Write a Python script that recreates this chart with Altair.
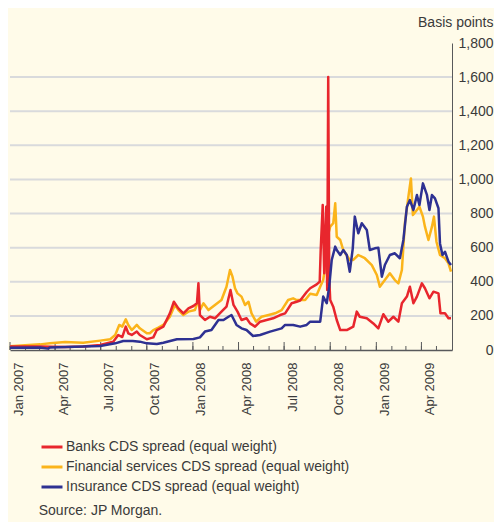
import altair as alt
import pandas as pd

# ---------------- data ----------------
series_names = [
    "Banks CDS spread (equal weight)",
    "Financial services CDS spread (equal weight)",
    "Insurance CDS spread (equal weight)",
]
series_colors = ["#e8262d", "#fbb41a", "#2e3192"]

banks_dates = [
    "2007-01-01", "2007-03-02", "2007-04-21", "2007-05-27", "2007-06-30", "2007-07-26",
    "2007-08-05", "2007-08-13", "2007-08-20", "2007-08-25", "2007-09-01", "2007-09-11",
    "2007-09-17", "2007-10-01", "2007-10-07", "2007-10-14", "2007-10-21", "2007-11-03",
    "2007-11-16", "2007-11-24", "2007-12-03", "2007-12-13", "2007-12-23", "2008-01-02",
    "2008-01-09", "2008-01-12", "2008-01-15", "2008-01-25", "2008-02-04", "2008-02-14",
    "2008-02-27", "2008-03-08", "2008-03-16", "2008-03-22", "2008-03-30", "2008-04-07",
    "2008-04-17", "2008-04-24", "2008-05-04", "2008-05-14", "2008-05-27", "2008-06-09",
    "2008-06-23", "2008-07-03", "2008-07-16", "2008-07-26", "2008-08-02", "2008-08-15",
    "2008-08-22", "2008-09-04", "2008-09-10", "2008-09-12", "2008-09-16", "2008-09-19",
    "2008-09-23", "2008-09-25", "2008-09-27", "2008-09-29", "2008-10-01", "2008-10-07",
    "2008-10-14", "2008-10-21", "2008-11-03", "2008-11-16", "2008-11-23", "2008-11-29",
    "2008-12-13", "2008-12-26", "2009-01-05", "2009-01-15", "2009-01-25", "2009-02-04",
    "2009-02-14", "2009-02-21", "2009-03-03", "2009-03-09", "2009-03-16", "2009-03-23",
    "2009-04-02", "2009-04-08", "2009-04-17", "2009-04-25", "2009-05-05", "2009-05-09",
    "2009-05-18", "2009-05-25", "2009-05-30",
]
banks_values = [
    20, 20, 18, 20, 29, 49,
    88, 76, 137, 98, 88, 108,
    88, 63, 68, 74, 117, 137,
    215, 283, 244, 215, 244, 258,
    274, 391, 205, 176, 195, 186,
    225, 254, 352, 264, 225, 176,
    186, 156, 137, 166, 176, 186,
    205, 215, 274, 283, 290, 340,
    362, 385, 400, 586, 850, 450,
    840, 352, 1600, 420, 293, 254,
    176, 117, 117, 137, 225, 195,
    186, 156, 127, 210, 166, 195,
    166, 274, 313, 371, 274, 313,
    391, 362, 303, 342, 332, 215,
    215, 186, 186,
]

fin_dates = [
    "2007-01-01", "2007-03-02", "2007-03-22", "2007-04-21", "2007-05-27", "2007-06-30",
    "2007-07-20", "2007-07-30", "2007-08-07", "2007-08-13", "2007-08-20", "2007-08-25",
    "2007-09-01", "2007-09-11", "2007-09-17", "2007-10-01", "2007-10-07", "2007-10-14",
    "2007-10-24", "2007-11-03", "2007-11-16", "2007-11-26", "2007-12-03", "2007-12-13",
    "2007-12-23", "2008-01-05", "2008-01-12", "2008-01-15", "2008-01-22", "2008-02-01",
    "2008-02-14", "2008-02-27", "2008-03-08", "2008-03-15", "2008-03-20", "2008-03-25",
    "2008-03-30", "2008-04-07", "2008-04-14", "2008-04-21", "2008-04-27", "2008-05-06",
    "2008-05-17", "2008-05-31", "2008-06-13", "2008-06-26", "2008-07-09", "2008-07-19",
    "2008-07-26", "2008-08-12", "2008-08-22", "2008-09-04", "2008-09-11", "2008-09-17",
    "2008-09-21", "2008-09-24", "2008-10-01", "2008-10-07", "2008-10-11", "2008-10-14",
    "2008-10-21", "2008-10-27", "2008-11-09", "2008-11-16", "2008-11-26", "2008-12-09",
    "2008-12-23", "2009-01-02", "2009-01-08", "2009-01-18", "2009-01-28", "2009-02-07",
    "2009-02-14", "2009-02-21", "2009-02-27", "2009-03-06", "2009-03-11", "2009-03-15",
    "2009-03-23", "2009-03-28", "2009-04-04", "2009-04-08", "2009-04-15", "2009-04-22",
    "2009-04-26", "2009-05-01", "2009-05-08", "2009-05-18", "2009-05-25", "2009-05-30",
]
fin_values = [
    22, 33, 39, 47, 43, 55,
    63, 88, 147, 137, 180, 147,
    117, 147, 127, 98, 98, 117,
    131, 147, 195, 264, 234, 205,
    225, 234, 293, 234, 274, 234,
    264, 293, 371, 469, 430, 362,
    332, 313, 264, 283, 215, 166,
    195, 205, 215, 234, 293, 303,
    293, 293, 330, 322, 371, 410,
    489, 645, 723, 743, 860, 664,
    645, 586, 528, 528, 557, 538,
    498, 440, 371, 410, 450, 410,
    391, 469, 743, 899, 1006, 791,
    821, 840, 782, 723, 645, 723,
    782, 635, 557, 538, 508, 459,
]

ins_dates = [
    "2007-01-01", "2007-03-02", "2007-03-18", "2007-03-22", "2007-06-30", "2007-07-30",
    "2007-08-15", "2007-09-03", "2007-09-17", "2007-10-01", "2007-10-21", "2007-11-03",
    "2007-11-30", "2008-01-02", "2008-01-15", "2008-01-25", "2008-02-07", "2008-02-21",
    "2008-03-02", "2008-03-12", "2008-03-18", "2008-03-28", "2008-04-07", "2008-04-17",
    "2008-04-30", "2008-05-14", "2008-06-03", "2008-06-26", "2008-07-03", "2008-07-19",
    "2008-08-02", "2008-08-15", "2008-08-22", "2008-09-11", "2008-09-17", "2008-09-24",
    "2008-09-29", "2008-10-04", "2008-10-11", "2008-10-14", "2008-10-21", "2008-10-27",
    "2008-11-03", "2008-11-09", "2008-11-15", "2008-11-19", "2008-11-26", "2008-12-03",
    "2008-12-13", "2008-12-19", "2008-12-29", "2009-01-05", "2009-01-12", "2009-01-18",
    "2009-01-28", "2009-02-07", "2009-02-17", "2009-02-24", "2009-03-03", "2009-03-09",
    "2009-03-16", "2009-03-23", "2009-03-28", "2009-04-04", "2009-04-12", "2009-04-17",
    "2009-04-22", "2009-04-28", "2009-05-05", "2009-05-08", "2009-05-13", "2009-05-18",
    "2009-05-25", "2009-05-30",
]
ins_values = [
    13, 15, 8, 15, 23, 39,
    53, 53, 49, 39, 35, 43,
    63, 64, 74, 108, 117, 176,
    176, 195, 205, 147, 127, 117,
    82, 88, 108, 127, 147, 147,
    137, 147, 166, 166, 313, 274,
    371, 528, 606, 586, 557, 586,
    557, 459, 596, 782, 684, 743,
    704, 586, 596, 600, 430, 498,
    557, 567, 538, 645, 840, 879,
    821, 909, 850, 977, 909, 821,
    909, 889, 831, 625, 557, 576,
    518, 498,
]

y_ticks = [0, 200, 400, 600, 800, 1000, 1200, 1400, 1600, 1800]
grid_values = [200, 400, 600, 800, 1000, 1200, 1400, 1600]
quarter_labels = ["2007-01-01", "2007-04-01", "2007-07-01", "2007-10-01",
                  "2008-01-01", "2008-04-01", "2008-07-01", "2008-10-01",
                  "2009-01-01", "2009-04-01"]
month_ticks = [f"{y}-{m:02d}-01" for y in (2007, 2008, 2009) for m in range(1, 13)
               if not (y == 2009 and m > 5)]

# ---------------- tables ----------------
frames = []
# draw order: financial services, banks, insurance
for name, d, v in [(series_names[1], fin_dates, fin_values),
                   (series_names[0], banks_dates, banks_values),
                   (series_names[2], ins_dates, ins_values)]:
    frames.append(pd.DataFrame({"date": pd.to_datetime(d), "value": v, "series": name}))
lines_df = pd.concat(frames, ignore_index=True)
grid_df = pd.DataFrame({"value": grid_values})
month_df = pd.DataFrame({"date": pd.to_datetime(month_ticks)})
quarter_df = pd.DataFrame({"date": pd.to_datetime(quarter_labels)})

W, H = 442, 307
FONT = "Liberation Sans"
TXT = "#3a3a3a"
AX = "#58595b"

def dt(s):
    y, m, d = (int(p) for p in s.split("-"))
    return alt.DateTime(year=y, month=m, date=d)

x_scale = alt.Scale(domain=[dt("2007-01-01"), dt("2009-06-01")])
y_scale = alt.Scale(domain=[0, 1800], nice=False)

x_axis = alt.Axis(
    values=[dt(s) for s in quarter_labels], format="%b %Y", labelAngle=270,
    labelPadding=12, labelOffset=8, ticks=False, tickSize=0, grid=False,
    domainColor=AX, domainWidth=1.5, labelFontSize=13, labelColor=TXT,
    labelFont=FONT, labelOverlap=False, labelFlush=False, title=None)
y_axis = alt.Axis(
    orient="right", values=y_ticks, format=",.0f", labelAlign="right",
    labelBaseline="middle", labelPadding=41, ticks=False, tickSize=0, grid=False,
    domainColor=AX, domainWidth=1, labelFontSize=14, labelColor=TXT, labelFont=FONT,
    labelOverlap=False, title="Basis points", titleAngle=0, titleAlign="right",
    titleBaseline="middle", titleX=41, titleY=-21, titleFontSize=14,
    titleFontWeight="normal", titleColor=TXT, titleFont=FONT)

x_enc = alt.X("date:T", scale=x_scale, axis=x_axis)
y_enc = alt.Y("value:Q", scale=y_scale, axis=y_axis)

grid = alt.Chart(grid_df).mark_rule(color="#d9dadc", strokeWidth=2).encode(
    y=y_enc, x=alt.value(0), x2=alt.value(W),
)

minor_ticks = alt.Chart(month_df).mark_rule(color=AX, strokeWidth=1).encode(
    x=x_enc, y=alt.value(H - 4), y2=alt.value(H),
)
major_ticks = alt.Chart(quarter_df).mark_rule(color=AX, strokeWidth=1).encode(
    x=x_enc, y=alt.value(H - 8), y2=alt.value(H),
)

lines = alt.Chart(lines_df).mark_line(strokeWidth=2.5, strokeJoin="round").encode(
    x=x_enc,
    y=y_enc,
    color=alt.Color("series:N", scale=alt.Scale(domain=series_names, range=series_colors),
                    legend=alt.Legend(orient="none", legendX=30, legendY=392, title=None,
                                      symbolType="stroke", symbolSize=441,
                                      symbolStrokeWidth=3, labelFontSize=14,
                                      labelColor=TXT, labelFont=FONT, labelOffset=2,
                                      rowPadding=1, labelLimit=0, padding=0)),
    detail="series:N",
)

chart = alt.layer(grid, minor_ticks, major_ticks, lines).properties(
    width=W, height=H,
    title=alt.TitleParams("Source: JP Morgan.", orient="bottom", anchor="start",
                          fontSize=14, fontWeight="normal", color=TXT, font=FONT,
                          offset=0, dx=30, dy=10),
    autosize=alt.AutoSizeParams(type="none"),
    padding={"left": 2, "top": 35, "right": 42, "bottom": 172},
).configure(background="#fffbe9", font=FONT).configure_view(stroke=None)

chart.save("out.html", embed_options={"renderer": "svg", "actions": False})
